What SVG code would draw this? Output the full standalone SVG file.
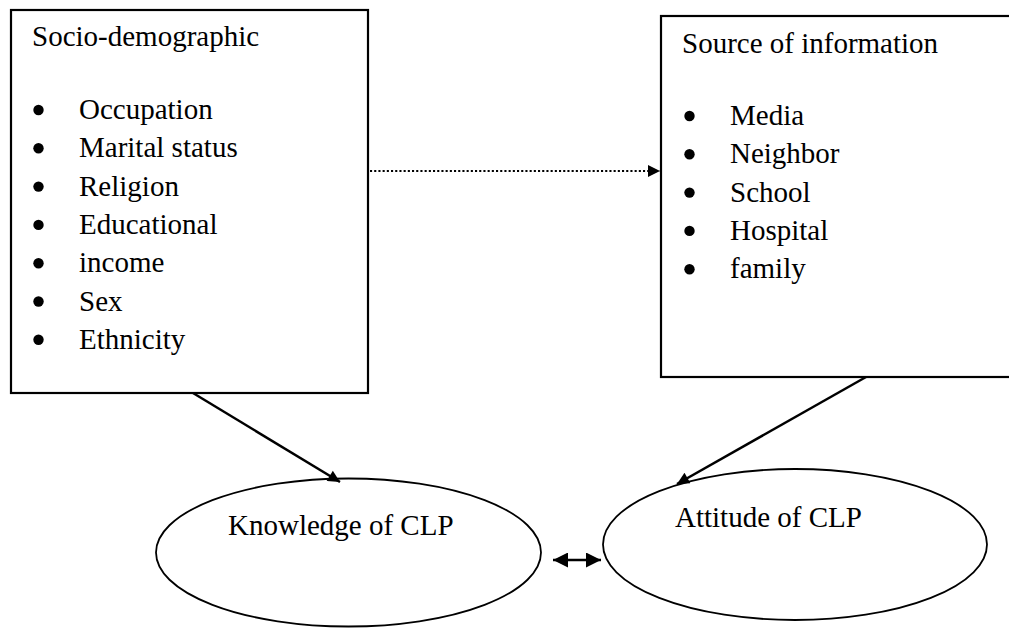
<svg xmlns="http://www.w3.org/2000/svg" width="1009" height="628" viewBox="0 0 1009 628">
<style>
text{font-family:"Liberation Serif","Times New Roman",serif;font-size:29px;fill:#000}
.box{fill:#fff;stroke:#000;stroke-width:2.2}
.ell{fill:#fff;stroke:#000;stroke-width:1.8}
.line{stroke:#000;stroke-width:2.5;fill:none}
.dot{stroke:#000;stroke-width:2.2;fill:none;stroke-dasharray:2.1 2.1}
.bul{fill:#000}
</style>
<defs>
<marker id="ah" viewBox="0 0 10 10" refX="10" refY="5" markerWidth="15" markerHeight="12" markerUnits="userSpaceOnUse" orient="auto">
<path d="M0,0 L10,5 L0,10 Z" fill="#000"/>
</marker>
<marker id="ahs" viewBox="0 0 10 10" refX="10" refY="5" markerWidth="16" markerHeight="15" markerUnits="userSpaceOnUse" orient="auto-start-reverse">
<path d="M0,0 L10,5 L0,10 Z" fill="#000"/>
</marker>
</defs>
<g id="socio">
<rect class="box" x="11" y="10" width="357" height="383"/>
<text x="32" y="46">Socio-demographic</text>
<circle class="bul" cx="38.5" cy="110" r="5.2"/><text x="79" y="119">Occupation</text>
<circle class="bul" cx="38.5" cy="148.3" r="5.2"/><text x="79" y="157.3">Marital status</text>
<circle class="bul" cx="38.5" cy="186.6" r="5.2"/><text x="79" y="195.6">Religion</text>
<circle class="bul" cx="38.5" cy="224.9" r="5.2"/><text x="79" y="233.9">Educational</text>
<circle class="bul" cx="38.5" cy="263.2" r="5.2"/><text x="79" y="272.2">income</text>
<circle class="bul" cx="38.5" cy="301.5" r="5.2"/><text x="79" y="310.5">Sex</text>
<circle class="bul" cx="38.5" cy="339.8" r="5.2"/><text x="79" y="348.8">Ethnicity</text>
</g>
<g id="source">
<rect class="box" x="661" y="16" width="360" height="361"/>
<text x="682" y="53">Source of information</text>
<circle class="bul" cx="689.5" cy="116" r="5.2"/><text x="730" y="125">Media</text>
<circle class="bul" cx="689.5" cy="154.3" r="5.2"/><text x="730" y="163.3">Neighbor</text>
<circle class="bul" cx="689.5" cy="192.6" r="5.2"/><text x="730" y="201.6">School</text>
<circle class="bul" cx="689.5" cy="230.9" r="5.2"/><text x="730" y="239.9">Hospital</text>
<circle class="bul" cx="689.5" cy="269.2" r="5.2"/><text x="730" y="278.2">family</text>
</g>
<g id="knowledge">
<ellipse class="ell" cx="348.5" cy="552.5" rx="192.5" ry="74"/>
<text x="228" y="535">Knowledge of CLP</text>
</g>
<g id="attitude">
<ellipse class="ell" cx="795" cy="544.5" rx="192" ry="75.5"/>
<text x="675" y="527">Attitude of CLP</text>
</g>
<g id="connectors">
<line class="dot" x1="370" y1="171" x2="660" y2="171" marker-end="url(#ah)"/>
<line class="line" x1="193" y1="393" x2="340" y2="482" marker-end="url(#ah)"/>
<line class="line" x1="866" y1="377" x2="677" y2="484" marker-end="url(#ah)"/>
<line class="line" x1="553" y1="560" x2="601" y2="560" marker-start="url(#ahs)" marker-end="url(#ahs)"/>
</g>
</svg>
